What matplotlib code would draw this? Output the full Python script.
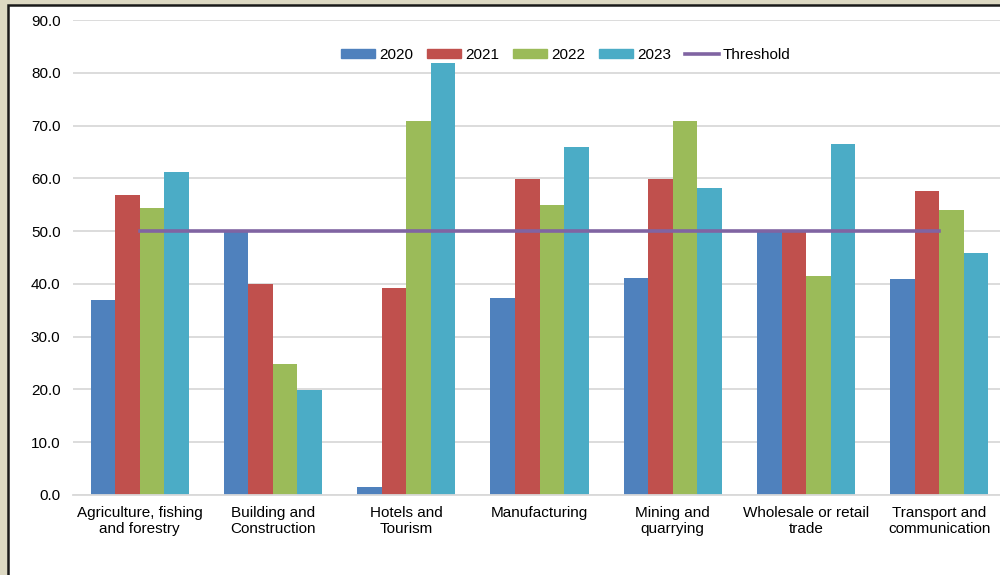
import matplotlib
matplotlib.use("Agg")
import matplotlib.pyplot as plt
import numpy as np
from matplotlib.patches import Rectangle
from matplotlib.lines import Line2D

plt.rcParams['font.family'] = ['Liberation Sans', 'DejaVu Sans']

categories = ["Agriculture, fishing\nand forestry", "Building and\nConstruction",
              "Hotels and\nTourism", "Manufacturing", "Mining and\nquarrying",
              "Wholesale or retail\ntrade", "Transport and\ncommunication"]
years = ["2020", "2021", "2022", "2023"]
v2020 = [37.0, 50.0, 1.5, 37.3, 41.1, 50.0, 40.9]
v2021 = [56.8, 39.9, 39.3, 59.9, 59.9, 50.0, 57.6]
v2022 = [54.3, 24.9, 70.8, 54.9, 70.8, 41.5, 54.0]
v2023 = [61.2, 19.9, 81.9, 66.0, 58.2, 66.6, 45.8]
threshold = [50, 50, 50, 50, 50, 50, 50]

colors = ['#4f81bd', '#c0504d', '#9bbb59', '#4bacc6']
thr_color = '#8064a2'

fig = plt.figure(figsize=(10, 5.75), dpi=100)
fig.patch.set_facecolor('#ddd9c3')
# white panel with dark frame (left and top visible)
fig.patches.append(Rectangle((8/1000, -0.05), 1.05, 1 - 5/575 + 0.05,
                             transform=fig.transFigure, facecolor='white',
                             edgecolor='#1a1a1a', linewidth=1.8, zorder=-5))

ax = fig.add_axes([73/1000, 80/575, 933/1000, 475/575])
ax.set_facecolor('none')

x = np.arange(len(categories))
w = 0.184
for i, vals in enumerate([v2020, v2021, v2022, v2023]):
    ax.bar(x + (i - 1.5) * w, vals, width=w, color=colors[i], label=years[i],
           zorder=2, linewidth=0)
ax.plot(x, threshold, color=thr_color, linewidth=2.6, zorder=3, label='Threshold')

ax.set_xlim(-0.5, len(categories) - 0.5)
ax.set_ylim(0, 90)
ax.set_yticks(np.arange(0, 91, 10))
ax.set_yticklabels(["%.1f" % t for t in np.arange(0, 91, 10)])
ax.yaxis.grid(True, color='#d9d9d9', linewidth=1.3, zorder=0)
ax.set_axisbelow(True)
for s in ['top', 'right', 'left']:
    ax.spines[s].set_visible(False)
ax.spines['bottom'].set_color('#d9d9d9')
ax.spines['bottom'].set_linewidth(1.3)
ax.set_xticks(x)
ax.set_xticklabels(categories)
ax.tick_params(axis='y', length=0, pad=9, labelsize=11)
ax.tick_params(axis='x', length=0, pad=8, labelsize=11)

handles = [Rectangle((0, 0), 1, 1, color=c) for c in colors]
handles.append(Line2D([0], [0], color=thr_color, linewidth=2.6))
fig.legend(handles, years + ['Threshold'], loc='center', ncol=5,
           bbox_to_anchor=(0.566, 1 - 55/575), bbox_transform=fig.transFigure,
           frameon=False, fontsize=11, handlelength=2.2, handleheight=0.45,
           columnspacing=0.9, handletextpad=0.3)

fig.savefig("out.png", dpi=100, facecolor=fig.get_facecolor())
